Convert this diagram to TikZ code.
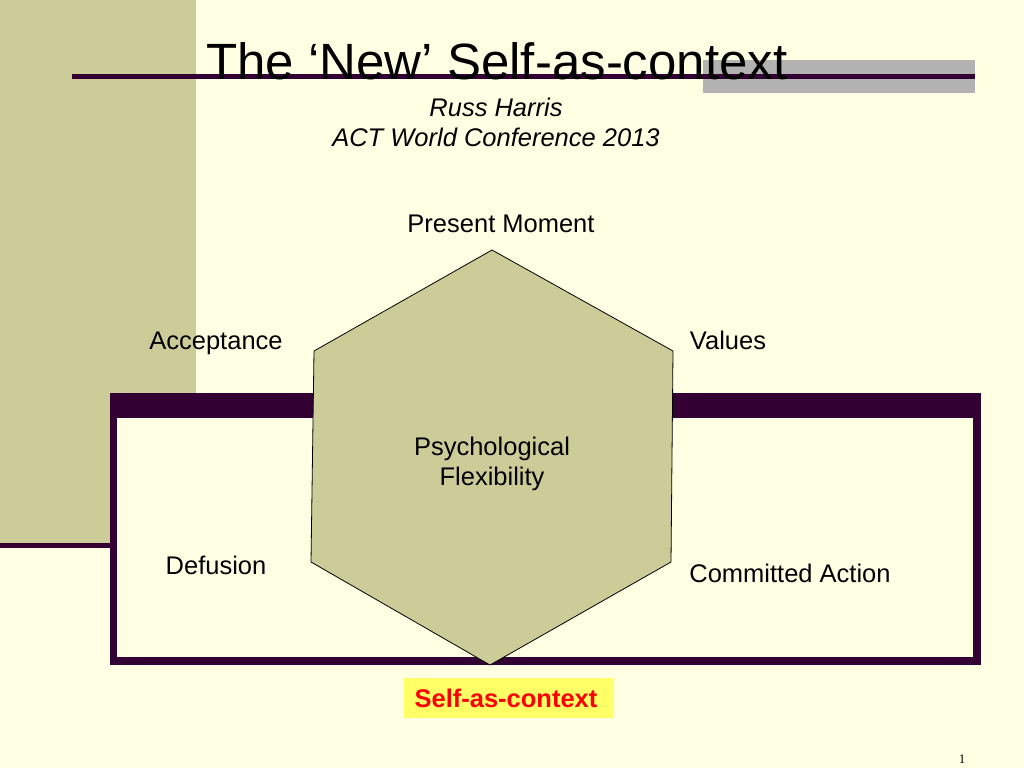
\documentclass[tikz,border=0pt]{standalone}
\usepackage{fontspec}
\setmainfont{Liberation Sans}
\newfontfamily\numfont{Liberation Serif}
\definecolor{cream}{RGB}{255,255,227}
\definecolor{olive}{RGB}{204,204,153}
\definecolor{plum}{RGB}{51,0,51}
\definecolor{greybar}{RGB}{178,178,178}
\definecolor{hilite}{RGB}{255,255,102}
\begin{document}
\begin{tikzpicture}[x=1pt,y=-1pt,
  lbl/.style={anchor=base,inner sep=0pt,font=\fontsize{25.5}{30}\selectfont},
  sub/.style={lbl,font=\fontsize{25.5}{30}\selectfont\itshape},
  hexfill/.style={fill=olive,draw=black,line width=0.8pt,line join=miter}]
   \useasboundingbox (0,0) rectangle (1024,768);
   \fill[cream] (0,0) rectangle (1024,768);
   \fill[olive] (0,0) rectangle (196,543);
   \fill[plum] (0,543) rectangle (110,548);
   \fill[greybar] (703,60) rectangle (975,93);
   \fill[plum] (72,74) rectangle (975,79);
   \node[anchor=base,inner sep=0pt,font=\fontsize{51}{60}\selectfont] (title) at (497,79) {The ‘New’ Self-as-context};
   \node[sub] (auth) at (496,116) {Russ Harris};
   \node[sub] (conf) at (496,146) {ACT World Conference 2013};
   \fill[plum] (110,393) rectangle (981,665);
   \fill[cream] (117,418) rectangle (973,657);
   \coordinate (t) at (492,250);
   \coordinate (ul) at (314,351);
   \coordinate (ll) at (311,562);
   \coordinate (b) at (490,665);
   \coordinate (lr) at (671,562);
   \coordinate (ur) at (673,351);
   \draw[hexfill] (t) -- (ur) -- (lr) -- (b) -- (ll) -- (ul) -- cycle;
   \node[lbl] (pm) at (501,232) {Present Moment};
   \node[lbl] (acc) at (216,349) {Acceptance};
   \node[lbl] (val) at (728,349) {Values};
   \node[lbl] (psy) at (492,455) {Psychological};
   \node[lbl] (flex) at (492,485) {Flexibility};
   \node[lbl] (def) at (216,574) {Defusion};
   \node[lbl] (ca) at (790,582) {Committed Action};
   \fill[hilite] (404,678) rectangle (613,718);
   \node[lbl,font=\fontsize{25.5}{30}\selectfont\bfseries,text=red] (sac) at (506,707) {Self-as-context};
   \node[anchor=base,inner sep=0pt,font=\numfont\fontsize{13}{15}\selectfont] (pg) at (962,763) {1};
\end{tikzpicture}
\end{document}
